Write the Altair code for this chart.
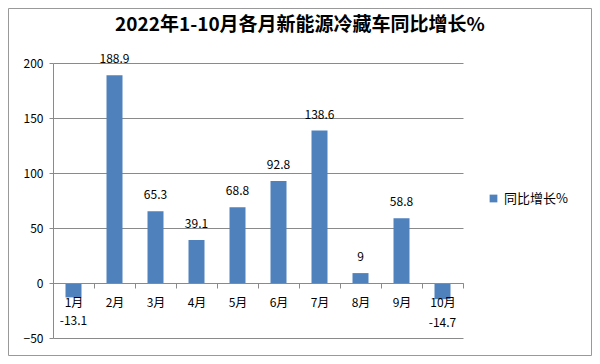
import altair as alt
import pandas as pd

months = ["1月", "2月", "3月", "4月", "5月", "6月", "7月", "8月", "9月", "10月"]
values = [-13.1, 188.9, 65.3, 39.1, 68.8, 92.8, 138.6, 9, 58.8, -14.7]
labels = ["-13.1", "188.9", "65.3", "39.1", "68.8", "92.8", "138.6", "9", "58.8", "-14.7"]
series_name = "同比增长%"
y_ticks = [-50, 0, 50, 100, 150, 200]
title_text = "2022年1-10月各月新能源冷藏车同比增长%"

df = pd.DataFrame({"month": months, "value": values, "label": labels, "series": series_name})

FONT = "Noto Sans CJK SC"
GRAY = "#8a8a8a"
BLUE = "#4F81BD"

x_enc = alt.X("month:N", sort=months,
              scale=alt.Scale(paddingInner=0, paddingOuter=0),
              axis=alt.Axis(title=None, labelAngle=0, offset=-55, tickBand="extent",
                            tickSize=5, labelPadding=9, domainColor=GRAY, tickColor=GRAY,
                            labelColor="#000000", labelFontSize=12, zindex=1))
y_scale = alt.Scale(domain=[-50, 200], nice=False, zero=False)

base = alt.Chart(df)

bars = base.mark_bar(size=16).encode(
    x=x_enc,
    y=alt.Y("value:Q", scale=y_scale,
            axis=alt.Axis(title=None, values=y_ticks, grid=True, gridColor=GRAY,
                          domainColor=GRAY, tickColor=GRAY, tickSize=4, labelPadding=6,
                          labelColor="#000000", labelFontSize=12)),
    color=alt.Color("series:N", scale=alt.Scale(range=[BLUE]),
                    legend=alt.Legend(title=None, orient="none", legendX=434, legendY=129,
                                      symbolType="square", symbolSize=60, symbolStrokeWidth=0,
                                      labelFontSize=13, labelColor="#000000", labelOffset=4)),
)

pos_text = base.transform_filter("datum.value >= 0").mark_text(
    baseline="bottom", dy=-9, fontSize=12, color="#000000").encode(
    x=alt.X("month:N", sort=months), y=alt.Y("value:Q", scale=y_scale), text="label:N")

neg_text = base.transform_filter("datum.value < 0").mark_text(
    baseline="top", dy=19, fontSize=12, color="#000000").encode(
    x=alt.X("month:N", sort=months), y=alt.Y("value:Q", scale=y_scale), text="label:N")

title_mark = alt.Chart(pd.DataFrame({"t": [title_text]})).mark_text(
    fontSize=19, fontWeight="bold", color="#000000", baseline="middle", align="center").encode(
    x=alt.value(247), y=alt.value(-38), text="t:N")

border = alt.Chart(pd.DataFrame({"a": [0]})).mark_rect(
    fill=None, stroke="#999999", strokeWidth=1).encode(
    x=alt.value(-44.5), x2=alt.value(538.5), y=alt.value(-54.5), y2=alt.value(292.5))

chart = alt.layer(bars, pos_text, neg_text, title_mark, border).properties(
    width=410, height=275,
    autosize=alt.AutoSizeParams(type="none"),
    padding={"left": 45, "top": 55, "right": 129, "bottom": 18},
).configure(font=FONT).configure_view(strokeWidth=0)

chart.save("out.html", embed_options={"renderer": "svg", "actions": False})
